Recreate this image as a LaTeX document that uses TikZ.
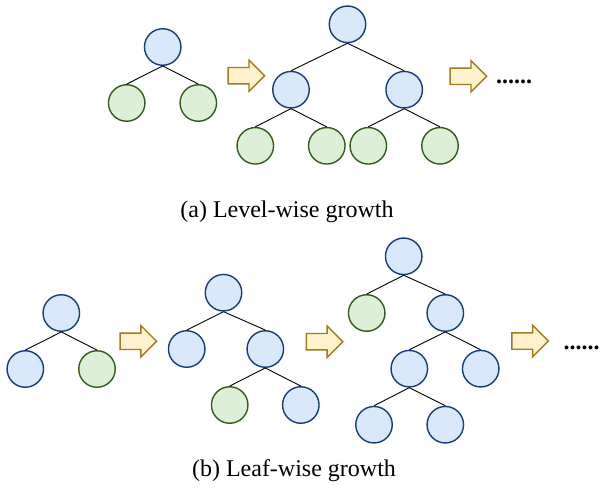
\documentclass[tikz,border=0pt]{standalone}
\usepackage{fontspec}
\setmainfont{Liberation Serif}
\usetikzlibrary{shapes.arrows}

\begin{document}
\begin{tikzpicture}[x=1pt,y=-1pt,
  innernode/.style={circle,draw=blueDraw,fill=blueFill,line width=1.4pt,minimum size=36.5pt,inner sep=0pt},
  leafnode/.style={circle,draw=greenDraw,fill=greenFill,line width=1.4pt,minimum size=36.5pt,inner sep=0pt},
  growarrow/.style={single arrow,draw=arrowDraw,fill=arrowFill,line width=1.4pt,minimum height=36.5pt,inner xsep=0pt,inner ysep=7.5pt,single arrow head extend=7.5pt,single arrow head indent=0pt},
  branchline/.style={draw=black,line width=0.9pt},
  captext/.style={inner sep=0pt,outer sep=0pt,font=\fontsize{24}{28}\selectfont},
  moredots/.style={captext,anchor=base west,font=\fontsize{24}{28}\selectfont\bfseries}]
\definecolor[named]{blueFill}{rgb}{0.855,0.910,0.988}
\definecolor[named]{blueDraw}{rgb}{0.090,0.230,0.500}
\definecolor[named]{greenFill}{rgb}{0.870,0.937,0.847}
\definecolor[named]{greenDraw}{rgb}{0.200,0.360,0.110}
\definecolor[named]{arrowFill}{rgb}{1.000,0.949,0.800}
\definecolor[named]{arrowDraw}{rgb}{0.640,0.480,0.120}
\path[use as bounding box,fill=white] (0,0) rectangle (601,489);

% (a) level-wise
\node[innernode] (a1) at (162.7, 47.0) {};
\node[leafnode]  (a2) at (126.7,103.0) {};
\node[leafnode]  (a3) at (198.3,103.0) {};
\draw[branchline] (a1.south) -- (a2.north);
\draw[branchline] (a1.south) -- (a3.north);

\node[growarrow] (ga1) at (242.3, 75.7) {};

\node[innernode] (b1) at (347.5, 24.3) {};
\node[innernode] (b2) at (291.0, 89.7) {};
\node[innernode] (b3) at (404.2, 89.7) {};
\node[leafnode]  (b4) at (255.3,145.8) {};
\node[leafnode]  (b5) at (326.8,145.8) {};
\node[leafnode]  (b6) at (368.3,145.8) {};
\node[leafnode]  (b7) at (440.0,145.8) {};
\draw[branchline] (b1.south) -- (b2.north);
\draw[branchline] (b1.south) -- (b3.north);
\draw[branchline] (b2.south) -- (b4.north);
\draw[branchline] (b2.south) -- (b5.north);
\draw[branchline] (b3.south) -- (b6.north);
\draw[branchline] (b3.south) -- (b7.north);

\node[growarrow] (ga2) at (464.3, 76.3) {};
\node[moredots] (dotsa) at (496.0, 84.0) {......};

\node[captext,anchor=base] (capa) at (287.0,217.0) {(a) Level-wise growth};

% (b) leaf-wise
\node[innernode] (c1) at ( 61.3,313.0) {};
\node[innernode] (c2) at ( 25.3,369.0) {};
\node[leafnode]  (c3) at ( 97.0,369.0) {};
\draw[branchline] (c1.south) -- (c2.north);
\draw[branchline] (c1.south) -- (c3.north);

\node[growarrow] (gb1) at (134.2,341.3) {};

\node[innernode] (d1) at (223.5,292.7) {};
\node[innernode] (d2) at (186.7,349.0) {};
\node[innernode] (d3) at (265.3,349.0) {};
\node[leafnode]  (d4) at (229.7,405.0) {};
\node[innernode] (d5) at (300.8,405.0) {};
\draw[branchline] (d1.south) -- (d2.north);
\draw[branchline] (d1.south) -- (d3.north);
\draw[branchline] (d3.south) -- (d4.north);
\draw[branchline] (d3.south) -- (d5.north);

\node[growarrow] (gb2) at (320.5,341.7) {};

\node[innernode] (e1) at (403.7,256.3) {};
\node[leafnode]  (e2) at (366.7,313.0) {};
\node[innernode] (e3) at (445.3,313.0) {};
\node[innernode] (e4) at (409.3,368.7) {};
\node[innernode] (e5) at (480.7,368.7) {};
\node[innernode] (e6) at (374.0,424.7) {};
\node[innernode] (e7) at (445.3,424.7) {};
\draw[branchline] (e1.south) -- (e2.north);
\draw[branchline] (e1.south) -- (e3.north);
\draw[branchline] (e3.south) -- (e4.north);
\draw[branchline] (e3.south) -- (e5.north);
\draw[branchline] (e4.south) -- (e6.north);
\draw[branchline] (e4.south) -- (e7.north);

\node[growarrow] (gb3) at (526.0,341.0) {};
\node[moredots] (dotsb) at (563.6,349.0) {......};

\node[captext,anchor=base] (capb) at (294.0,476.0) {(b) Leaf-wise growth};
\end{tikzpicture}
\end{document}
